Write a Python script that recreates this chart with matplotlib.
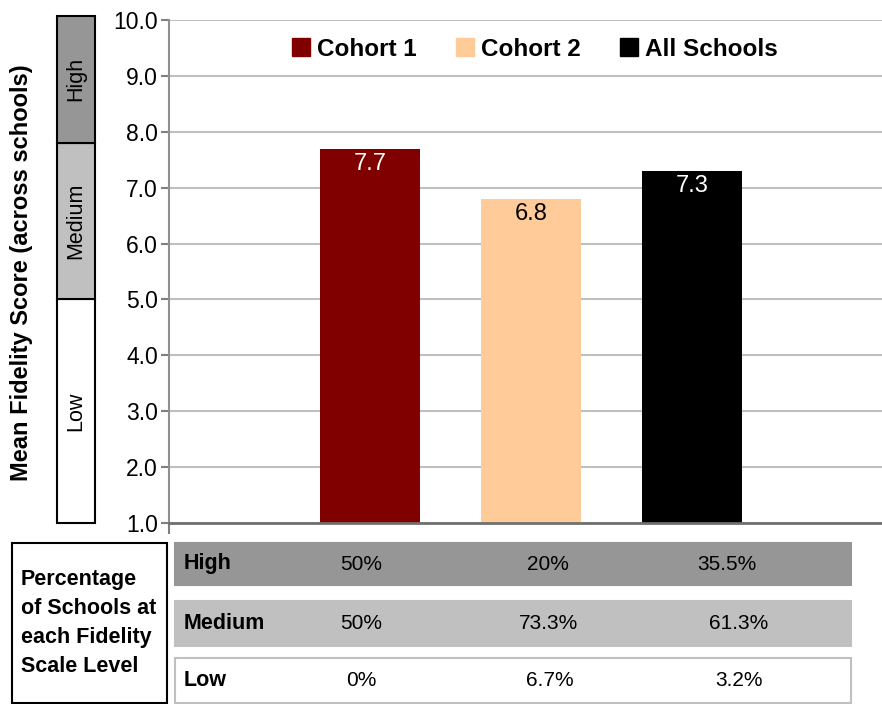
import matplotlib
matplotlib.use('Agg')
import matplotlib.pyplot as plt
from matplotlib.patches import Rectangle

groups = ['Cohort 1', 'Cohort 2', 'All Schools']
mean_scores = [7.7, 6.8, 7.3]
bar_colors = ['#800000', '#ffcc99', '#000000']
label_colors = ['white', 'black', 'white']

levels = ['Low', 'Medium', 'High']
level_bounds = [1.0, 5.0, 7.8, 10.0]
level_colors = ['#ffffff', '#c0c0c0', '#969696']

pct_high = ['50%', '20%', '35.5%']
pct_medium = ['50%', '73.3%', '61.3%']
pct_low = ['0%', '6.7%', '3.2%']

plt.rcParams['font.family'] = ['Liberation Sans', 'DejaVu Sans']

W, H = 882, 704
fig = plt.figure(figsize=(W / 100, H / 100), dpi=100)


def px_box(x0, y0, x1, y1):
    # pixel box (top-left origin) -> figure fraction rect
    return [x0 / W, 1 - y1 / H, (x1 - x0) / W, (y1 - y0) / H]


# main bar chart
ax = fig.add_axes(px_box(169, 20, 882, 523))
x = [1, 2, 3]
ax.bar(x, mean_scores, width=0.62, color=bar_colors, bottom=0, zorder=3)
ax.set_ylim(1, 10)
ax.set_xlim(-0.25, 4.18)
ax.set_yticks(range(1, 11))
ax.set_yticklabels([f'{v:.1f}' for v in range(1, 11)], fontsize=16.5)
ax.set_xticks([-0.25])
ax.set_xticklabels([''])
ax.tick_params(axis='x', length=8, color='#808080', width=1.5)
ax.tick_params(axis='y', length=6, color='#808080', width=1.5, pad=2)
ax.grid(axis='y', color='#c0c0c0', linewidth=1.5, zorder=0)
for s in ['top', 'right']:
    ax.spines[s].set_visible(False)
ax.spines['left'].set_color('#909090')
ax.spines['left'].set_linewidth(1.5)
ax.spines['bottom'].set_color('#707070')
ax.spines['bottom'].set_linewidth(2)
ax.spines['bottom'].set_zorder(4)

for xi, v, c in zip(x, mean_scores, label_colors):
    ax.annotate(f'{v}', (xi, v), xytext=(0, -3), textcoords='offset points',
                ha='center', va='top', color=c, fontsize=17, zorder=5)

handles = [Rectangle((0, 0), 1, 1, color=c) for c in bar_colors]
ax.legend(handles, groups, loc='center', bbox_to_anchor=(0.513, 0.942), ncol=3,
          frameon=False, handlelength=0.75, handleheight=0.75, handletextpad=0.3,
          columnspacing=1.6, prop={'weight': 'bold', 'size': 17.5})

# level strip beside the y axis
ax_lv = fig.add_axes(px_box(57, 20, 95, 523))
ax_lv.set_ylim(1, 10)
ax_lv.set_xlim(0, 1)
ax_lv.axis('off')
tops = level_bounds[1:-1] + [10.08]
for name, lo, hi, col in zip(levels, level_bounds[:-1], tops, level_colors):
    ax_lv.add_patch(Rectangle((0, lo), 1, hi - lo, facecolor=col, edgecolor='black',
                              linewidth=1.5, clip_on=False))
    ax_lv.text(0.5, (lo + hi) / 2, name, rotation=90, ha='center', va='center',
               fontsize=15.5)

fig.text(22 / W, 1 - 273 / H, 'Mean Fidelity Score (across schools)', rotation=90,
         ha='center', va='center', fontsize=17, fontweight='bold')

# percentage table below the chart
tab = fig.add_axes([0, 0, 1, 1], zorder=-1)
tab.set_xlim(0, W)
tab.set_ylim(H, 0)
tab.axis('off')
tab.add_patch(Rectangle((12, 543), 155, 160, facecolor='white', edgecolor='black',
                        linewidth=1.5))
tab.text(21, 623, 'Percentage\nof Schools at\neach Fidelity\nScale Level', ha='left',
         va='center', fontsize=15.5, fontweight='bold', linespacing=1.5)

rows = [('High', pct_high, 543, 585, '#969696', '#969696'),
        ('Medium', pct_medium, 601, 646, '#c0c0c0', '#c0c0c0'),
        ('Low', pct_low, 658, 703, '#ffffff', '#c0c0c0')]
col_x = [[361, 548, 727], [361, 548, 739], [361, 550, 739]]
for (name, vals, y0, y1, fc, ec), cx in zip(rows, col_x):
    tab.add_patch(Rectangle((175, y0), 676, y1 - y0, facecolor=fc, edgecolor=ec,
                            linewidth=1.5))
    ym = (y0 + y1) / 2
    tab.text(184, ym, name, ha='left', va='center', fontsize=15.5, fontweight='bold')
    for xv, v in zip(cx, vals):
        tab.text(xv, ym, v, ha='center', va='center', fontsize=15)

fig.savefig('out.png', dpi=100)
